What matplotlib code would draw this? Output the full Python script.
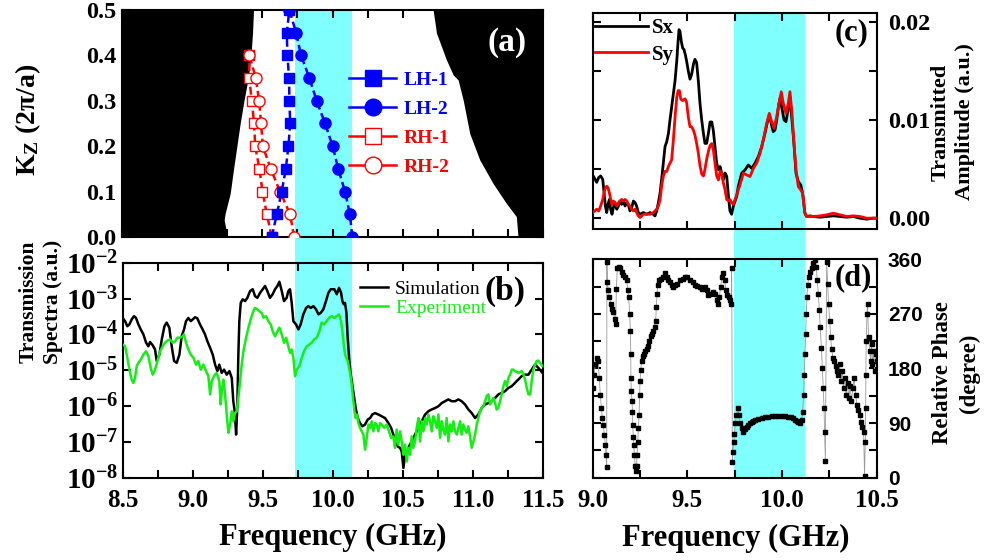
import matplotlib
matplotlib.use('Agg')
import matplotlib.pyplot as plt
import numpy as np
import matplotlib.transforms as mtransforms
from matplotlib.patches import Rectangle
from matplotlib.lines import Line2D
from matplotlib.ticker import MultipleLocator, NullLocator

plt.rcParams['font.family'] = ['Liberation Serif', 'DejaVu Serif']
plt.rcParams['font.weight'] = 'bold'
plt.rcParams['mathtext.fontset'] = 'custom'
plt.rcParams['mathtext.rm'] = 'Liberation Serif:bold'
plt.rcParams['mathtext.bf'] = 'Liberation Serif:bold'
plt.rcParams['mathtext.it'] = 'Liberation Serif:italic:bold'
plt.rcParams['axes.linewidth'] = 1.5

# ---------------- panel (a): band diagram ----------------
K_LH = [0.0, 0.05, 0.10, 0.15, 0.20, 0.25, 0.30, 0.35, 0.40, 0.45, 0.50]
LH1_F = [9.567, 9.603, 9.638, 9.667, 9.686, 9.698, 9.693, 9.690, 9.679, 9.674, 9.693]
LH2_F = [10.141, 10.124, 10.089, 10.041, 10.001, 9.947, 9.887, 9.835, 9.776, 9.740, 9.693]
K_RH = [0.0, 0.05, 0.10, 0.15, 0.20, 0.25, 0.30, 0.35, 0.40]
RH1_F = [9.567, 9.532, 9.501, 9.479, 9.449, 9.441, 9.425, 9.406, 9.408]
RH2_F = [9.726, 9.698, 9.626, 9.560, 9.503, 9.491, 9.477, 9.453, 9.408]

CONE_LEFT_K = [0.5, 0.449, 0.397, 0.353, 0.302, 0.250, 0.199, 0.148, 0.096, 0.052, 0.037, 0.015, 0.0]
CONE_LEFT_F = [9.437, 9.430, 9.418, 9.401, 9.370, 9.342, 9.318, 9.294, 9.271, 9.235, 9.228, 9.242, 9.247]
CONE_RIGHT_K = [0.5, 0.449, 0.390, 0.357, 0.346, 0.302, 0.228, 0.170, 0.118, 0.074, 0.045, 0.0]
CONE_RIGHT_F = [10.717, 10.741, 10.812, 10.860, 10.895, 10.931, 10.978, 11.049, 11.144, 11.239, 11.310, 11.322]

BAND_AB = (9.728, 10.141)
BAND_CD = (9.746, 10.120)

# ---------------- panel (b): transmission spectra (log10) ----------------
SIM_F = [8.500, 8.517, 8.533, 8.548, 8.564, 8.581, 8.595, 8.612, 8.629, 8.648,
         8.667, 8.683, 8.695, 8.714, 8.731, 8.743, 8.762, 8.779, 8.798, 8.814,
         8.833, 8.850, 8.867, 8.886, 8.905, 8.921, 8.938, 8.952, 8.969, 8.986,
         9.000, 9.017, 9.033, 9.052, 9.071, 9.088, 9.105, 9.124, 9.143, 9.160,
         9.176, 9.190, 9.207, 9.224, 9.243, 9.262, 9.279, 9.290, 9.300, 9.310,
         9.319, 9.326, 9.333, 9.343, 9.357, 9.374, 9.390, 9.410, 9.429, 9.445,
         9.462, 9.481, 9.500, 9.517, 9.533, 9.552, 9.571, 9.588, 9.605, 9.619,
         9.636, 9.652, 9.671, 9.683, 9.695, 9.707, 9.719, 9.738, 9.755, 9.771,
         9.790, 9.810, 9.826, 9.843, 9.862, 9.881, 9.898, 9.914, 9.933, 9.952,
         9.969, 9.986,
         10.012, 10.029, 10.045, 10.060, 10.069, 10.079, 10.088, 10.098, 10.107, 10.117,
         10.126, 10.136, 10.150, 10.164, 10.179, 10.195, 10.212, 10.231, 10.250, 10.267,
         10.283, 10.302, 10.326, 10.350, 10.374, 10.398, 10.417, 10.433, 10.450, 10.464,
         10.481, 10.493, 10.505, 10.517, 10.529, 10.545, 10.564, 10.588, 10.612, 10.636,
         10.660, 10.683, 10.707, 10.731, 10.755, 10.779, 10.802, 10.826, 10.850, 10.874,
         10.898, 10.921, 10.945, 10.969, 10.993, 11.017, 11.040, 11.064, 11.088, 11.112,
         11.136, 11.160, 11.183, 11.207, 11.231, 11.255, 11.279, 11.302, 11.326, 11.350,
         11.374, 11.398, 11.421, 11.445, 11.469, 11.498]
SIM_LOGT = [-3.54, -3.63, -3.77, -3.72, -3.58, -3.49, -3.54, -3.72, -3.86, -4.00,
            -4.23, -4.33, -4.21, -4.30, -4.42, -4.74, -4.56, -4.14, -3.77, -3.67,
            -3.81, -4.33, -4.74, -4.79, -4.56, -4.05, -3.86, -3.63, -3.54, -3.63,
            -3.58, -3.52, -3.55, -3.72, -3.86, -4.00, -4.19, -4.37, -4.56, -4.84,
            -5.02, -4.84, -5.07, -4.98, -5.12, -5.02, -5.21, -5.86, -6.14, -6.79,
            -5.95, -4.56, -3.63, -3.12, -3.02, -3.07, -2.98, -2.79, -2.74, -2.93,
            -2.98, -2.84, -2.74, -2.65, -2.79, -2.98, -2.88, -2.74, -2.65, -2.53,
            -2.79, -3.07, -2.98, -2.79, -2.74, -3.12, -3.63, -3.72, -3.86, -3.72,
            -3.44, -3.26, -3.21, -3.26, -3.21, -3.30, -3.44, -3.40, -3.30, -3.07,
            -2.84, -2.74,
            -2.74, -2.88, -2.70, -2.84, -3.07, -3.16, -3.12, -3.40, -4.09, -4.65,
            -5.02, -5.30, -5.67, -6.05, -6.33, -6.47, -6.56, -6.51, -6.37, -6.33,
            -6.23, -6.19, -6.23, -6.28, -6.33, -6.47, -6.60, -6.79, -6.98, -7.12,
            -7.16, -7.26, -7.72, -7.35, -7.35, -7.12, -6.98, -6.79, -6.60, -6.42,
            -6.23, -6.14, -6.09, -6.05, -6.00, -5.91, -5.86, -5.81, -5.86, -5.86,
            -5.81, -5.86, -5.95, -6.09, -6.19, -6.33, -6.23, -6.05, -5.95, -5.91,
            -5.86, -5.77, -5.67, -5.63, -5.58, -5.49, -5.44, -5.35, -5.26, -5.16,
            -5.12, -5.12, -4.98, -4.84, -4.93, -5.07]

EXP_F = [8.500, 8.517, 8.533, 8.548, 8.564, 8.576, 8.588, 8.600, 8.612, 8.629,
         8.648, 8.667, 8.683, 8.700, 8.714, 8.731, 8.748, 8.767, 8.786, 8.802,
         8.819, 8.838, 8.857, 8.874, 8.890, 8.910, 8.929, 8.938, 8.952, 8.969,
         8.986, 9.005, 9.024, 9.040, 9.057, 9.076, 9.095, 9.112, 9.124, 9.136,
         9.152, 9.171, 9.190, 9.200, 9.210, 9.219, 9.231, 9.243, 9.255, 9.267,
         9.279, 9.290, 9.302, 9.314, 9.326, 9.338, 9.350, 9.362, 9.381, 9.398,
         9.414, 9.433, 9.445, 9.462, 9.476, 9.493, 9.505, 9.524, 9.540, 9.557,
         9.571, 9.588, 9.605, 9.619, 9.636, 9.652, 9.667, 9.683, 9.695, 9.707,
         9.719, 9.731, 9.743, 9.762, 9.779, 9.795, 9.814, 9.833, 9.850, 9.867,
         9.886, 9.905, 9.921, 9.938, 9.957, 9.976, 9.993,
         10.012, 10.029, 10.045, 10.060, 10.069, 10.079, 10.088, 10.098, 10.107, 10.117,
         10.126, 10.136, 10.145, 10.155, 10.164, 10.174, 10.183, 10.195, 10.207, 10.219,
         10.231, 10.243, 10.255, 10.267, 10.279, 10.290, 10.302, 10.314, 10.326, 10.338,
         10.350, 10.369, 10.386, 10.402, 10.417, 10.433, 10.445, 10.457, 10.469, 10.481,
         10.493, 10.505, 10.517, 10.529, 10.540, 10.552, 10.564, 10.576, 10.588, 10.600,
         10.612, 10.624, 10.636, 10.648, 10.660, 10.671, 10.683, 10.695, 10.707, 10.719,
         10.731, 10.743, 10.755, 10.767, 10.779, 10.790, 10.802, 10.814, 10.826, 10.838,
         10.850, 10.862, 10.874, 10.886, 10.898, 10.910, 10.921, 10.933, 10.945, 10.957,
         10.969, 10.981, 10.993, 11.005, 11.017, 11.029, 11.040, 11.052, 11.064, 11.076,
         11.088, 11.100, 11.112, 11.124, 11.136, 11.148, 11.160, 11.171, 11.183, 11.195,
         11.207, 11.219, 11.231, 11.243, 11.255, 11.267, 11.279, 11.290, 11.302, 11.326,
         11.350, 11.362, 11.374, 11.386, 11.398, 11.410, 11.421, 11.433, 11.445, 11.457,
         11.469, 11.481, 11.498]
EXP_LOGT = [-4.28, -4.33, -4.65, -4.98, -5.26, -5.35, -5.21, -4.88, -4.79, -4.70,
            -4.56, -4.47, -4.60, -4.93, -5.12, -4.98, -4.74, -4.47, -4.33, -4.23,
            -4.17, -4.14, -4.23, -4.19, -4.09, -4.09, -4.05, -4.00, -4.23, -4.42,
            -4.56, -4.65, -4.84, -4.74, -4.98, -4.84, -5.02, -5.16, -5.67, -5.30,
            -5.16, -5.07, -5.30, -5.95, -5.49, -5.26, -5.67, -6.23, -6.74, -6.51,
            -6.14, -6.42, -6.19, -6.14, -5.77, -5.30, -4.84, -4.47, -4.09, -3.81,
            -3.58, -3.35, -3.26, -3.30, -3.35, -3.40, -3.53, -3.49, -3.63, -3.72,
            -3.91, -4.05, -3.91, -3.81, -4.00, -4.23, -4.09, -4.33, -4.51, -4.42,
            -4.65, -5.16, -4.98, -4.88, -4.65, -4.47, -4.33, -4.28, -4.23, -4.14,
            -4.09, -3.91, -3.67, -3.72, -3.63, -3.53, -3.49,
            -3.54, -3.49, -3.44, -3.63, -3.91, -4.28, -4.56, -4.65, -4.74, -4.93,
            -5.12, -5.40, -5.77, -6.14, -6.33, -6.23, -6.47, -6.60, -6.70, -6.79,
            -7.21, -6.88, -6.51, -6.60, -6.42, -6.70, -6.47, -6.51, -6.70, -6.47,
            -6.51, -6.60, -6.51, -6.70, -6.88, -6.84, -7.16, -6.65, -7.07, -6.70,
            -6.98, -7.35, -7.07, -7.54, -7.16, -7.35, -6.84, -7.16, -6.98, -6.60,
            -6.33, -6.98, -6.42, -6.70, -6.33, -6.51, -6.23, -6.42, -6.70, -6.28,
            -6.42, -6.60, -6.23, -6.88, -6.42, -6.65, -6.79, -6.33, -6.98, -6.51,
            -6.70, -6.42, -6.70, -6.79, -6.60, -6.42, -6.79, -6.51, -6.65, -6.74,
            -6.56, -6.84, -7.16, -6.98, -6.79, -6.51, -6.33, -6.14, -6.05, -6.00,
            -5.86, -5.72, -5.67, -5.95, -5.86, -5.77, -5.91, -6.09, -6.05, -5.86,
            -5.67, -5.44, -5.30, -5.44, -5.21, -5.12, -4.98, -4.98, -5.02, -5.07,
            -5.02, -5.12, -5.26, -5.49, -5.67, -5.67, -5.30, -4.98, -4.84, -4.74,
            -4.73, -4.79, -4.88]

# ---------------- panel (c): transmitted amplitude ----------------
SX_F = [9.000, 9.011, 9.021, 9.032, 9.042, 9.053, 9.060, 9.067, 9.074, 9.081,
        9.088, 9.095, 9.102, 9.109, 9.118, 9.127, 9.136, 9.144, 9.153, 9.162,
        9.171, 9.180, 9.188, 9.197, 9.206, 9.215, 9.224, 9.232, 9.241, 9.250,
        9.268, 9.285, 9.303, 9.320, 9.329, 9.338, 9.347, 9.356, 9.364, 9.373,
        9.382, 9.391, 9.400, 9.408, 9.417, 9.426, 9.435, 9.444, 9.451, 9.456,
        9.461, 9.468, 9.475, 9.482, 9.489, 9.496, 9.505, 9.514, 9.523, 9.532,
        9.540, 9.549, 9.558, 9.567, 9.576, 9.585, 9.593, 9.602, 9.611, 9.620,
        9.629, 9.637, 9.646, 9.655, 9.664, 9.673, 9.681, 9.690, 9.699, 9.708,
        9.717, 9.725, 9.734, 9.743, 9.752, 9.761,
        9.769, 9.787, 9.805, 9.822, 9.840, 9.857, 9.875, 9.893, 9.910, 9.923,
        9.933, 9.945, 9.954, 9.963, 9.972, 9.981, 9.989, 9.998, 10.011, 10.021,
        10.032, 10.042, 10.051, 10.063, 10.074, 10.086, 10.099, 10.109, 10.121, 10.130,
        10.148, 10.165, 10.201, 10.236, 10.271, 10.306, 10.342, 10.377, 10.412, 10.447,
        10.482, 10.500]
SX_AMP = [0.00440, 0.00400, 0.00365, 0.00415, 0.00430, 0.00395, 0.00258, 0.00124, 0.00057, 0.00141,
          0.00191, 0.00091, 0.00040, 0.00107, 0.00158, 0.00091, 0.00124, 0.00175, 0.00141, 0.00175,
          0.00124, 0.00158, 0.00141, 0.00074, 0.00107, 0.00175, 0.00158, 0.00124, 0.00057, 0.00040,
          0.00057, 0.00040, 0.00057, 0.00040, 0.00023, 0.00074, 0.00158, 0.00258, 0.00393, 0.00560,
          0.00728, 0.00779, 0.00862, 0.00997, 0.01131, 0.01265, 0.01399, 0.01601, 0.01802, 0.01920,
          0.01903, 0.01802, 0.01735, 0.01718, 0.01668, 0.01601, 0.01500, 0.01416, 0.01467, 0.01567,
          0.01618, 0.01584, 0.01399, 0.01165, 0.00997, 0.00862, 0.00762, 0.00762, 0.00862, 0.00980,
          0.00980, 0.00896, 0.00728, 0.00560, 0.00493, 0.00527, 0.00460, 0.00393, 0.00460, 0.00426,
          0.00225, 0.00074, 0.00040, 0.00124, 0.00175, 0.00225,
          0.00322, 0.00458, 0.00492, 0.00542, 0.00508, 0.00559, 0.00627, 0.00729, 0.00864, 0.00983,
          0.01051, 0.00949, 0.00881, 0.00898, 0.01000, 0.01136, 0.01220, 0.01136, 0.01000, 0.00983,
          0.01102, 0.01237, 0.01034, 0.00763, 0.00458, 0.00373, 0.00339, 0.00254, 0.00051, 0.00017,
          0.00024, 0.00017, 0.00010, 0.00017, 0.00024, 0.00017, 0.00010, 0.00017, 0.00000, -0.00010,
          0.00000, 0.00000]

SY_F = [9.000, 9.011, 9.021, 9.032, 9.042, 9.053, 9.060, 9.067, 9.074, 9.081,
        9.088, 9.095, 9.102, 9.109, 9.118, 9.127, 9.136, 9.144, 9.153, 9.162,
        9.171, 9.180, 9.188, 9.197, 9.206, 9.215, 9.224, 9.232, 9.241, 9.250,
        9.259, 9.268, 9.285, 9.303, 9.320, 9.338, 9.347, 9.356, 9.364, 9.373,
        9.382, 9.391, 9.400, 9.408, 9.417, 9.426, 9.435, 9.444, 9.451, 9.458,
        9.465, 9.475, 9.488, 9.496, 9.505, 9.514, 9.523, 9.532, 9.540, 9.549,
        9.558, 9.567, 9.576, 9.585, 9.593, 9.602, 9.611, 9.620, 9.629, 9.637,
        9.646, 9.655, 9.664, 9.673, 9.681, 9.690, 9.699, 9.708, 9.717, 9.725,
        9.734, 9.743, 9.752, 9.761,
        9.778, 9.796, 9.813, 9.831, 9.849, 9.866, 9.884, 9.901, 9.919, 9.933,
        9.945, 9.958, 9.972, 9.986, 9.996, 10.007, 10.021, 10.033, 10.042, 10.053,
        10.063, 10.074, 10.086, 10.099, 10.109, 10.121, 10.130, 10.165, 10.201, 10.236,
        10.271, 10.306, 10.342, 10.377, 10.412, 10.447, 10.482, 10.500]
SY_AMP = [0.00057, 0.00074, 0.00091, 0.00074, 0.00124, 0.00191, 0.00258, 0.00309, 0.00326, 0.00309,
          0.00258, 0.00191, 0.00141, 0.00175, 0.00158, 0.00124, 0.00158, 0.00175, 0.00191, 0.00175,
          0.00191, 0.00175, 0.00141, 0.00124, 0.00091, 0.00074, 0.00091, 0.00057, 0.00023, 0.00007,
          0.00023, 0.00040, 0.00040, 0.00040, 0.00057, 0.00091, 0.00124, 0.00191, 0.00326, 0.00426,
          0.00477, 0.00477, 0.00527, 0.00560, 0.00594, 0.00795, 0.01030, 0.01232, 0.01299, 0.01299,
          0.01215, 0.01198, 0.01215, 0.01181, 0.01030, 0.00930, 0.00930, 0.00896, 0.00846, 0.00762,
          0.00661, 0.00530, 0.00450, 0.00430, 0.00500, 0.00600, 0.00680, 0.00740, 0.00760, 0.00700,
          0.00560, 0.00430, 0.00390, 0.00480, 0.00460, 0.00360, 0.00290, 0.00190, 0.00180, 0.00190,
          0.00160, 0.00140, 0.00190, 0.00240,
          0.00339, 0.00458, 0.00441, 0.00424, 0.00508, 0.00559, 0.00661, 0.00797, 0.00966, 0.01068,
          0.00983, 0.00915, 0.01034, 0.01186, 0.01288, 0.01169, 0.01068, 0.01169, 0.01288, 0.01068,
          0.00763, 0.00492, 0.00322, 0.00288, 0.00254, 0.00051, 0.00017, 0.00017, 0.00024, 0.00034,
          0.00051, 0.00034, 0.00017, 0.00024, 0.00017, 0.00000, 0.00000, 0.00000]

# ---------------- panel (d): relative phase ----------------
PH_F = [9.000, 9.007, 9.014, 9.021, 9.028, 9.035, 9.040, 9.046, 9.051, 9.056, 9.062, 9.067, 9.070, 9.074,
        9.075, 9.077, 9.083, 9.088, 9.095, 9.102, 9.109, 9.116, 9.121,
        9.125, 9.130, 9.137, 9.144, 9.153, 9.162, 9.171, 9.180, 9.185, 9.190,
        9.195, 9.199, 9.201, 9.202, 9.204, 9.208, 9.210, 9.211, 9.215, 9.217,
        9.220, 9.224, 9.227,
        9.232, 9.234, 9.238, 9.241, 9.245, 9.248, 9.250, 9.254, 9.259, 9.264,
        9.271, 9.278, 9.285, 9.294, 9.299, 9.306, 9.313, 9.320, 9.327, 9.333,
        9.336, 9.340, 9.343, 9.350, 9.359, 9.370, 9.382, 9.391, 9.400, 9.408,
        9.417, 9.426, 9.435, 9.447, 9.461, 9.475, 9.488, 9.500, 9.514, 9.528,
        9.540, 9.553, 9.567, 9.579, 9.592, 9.602, 9.611, 9.620, 9.634, 9.646,
        9.655, 9.662, 9.669, 9.676, 9.683, 9.690, 9.697, 9.704, 9.711, 9.718,
        9.725, 9.731, 9.734,
        9.738, 9.741, 9.745, 9.748, 9.754, 9.759, 9.766, 9.773, 9.780, 9.787,
        9.796, 9.804, 9.813, 9.822, 9.831, 9.840, 9.849, 9.857, 9.875, 9.893,
        9.910, 9.928, 9.945, 9.963, 9.981, 9.998, 10.016, 10.033, 10.048, 10.060,
        10.069, 10.077, 10.086, 10.095, 10.104,
        10.109, 10.114, 10.118, 10.121, 10.125, 10.128, 10.132, 10.135, 10.142, 10.149,
        10.156, 10.165, 10.174, 10.181, 10.186, 10.192, 10.197, 10.202, 10.208, 10.213,
        10.218, 10.222, 10.225, 10.229,
        10.236, 10.241, 10.246, 10.252, 10.257, 10.262, 10.269, 10.276, 10.283, 10.290,
        10.297, 10.304, 10.311, 10.318, 10.325, 10.332, 10.339, 10.346, 10.353, 10.360,
        10.367, 10.374, 10.381, 10.389, 10.396, 10.403, 10.410, 10.417, 10.424, 10.431,
        10.436, 10.440, 10.442, 10.443, 10.445, 10.449, 10.452, 10.457, 10.463, 10.468,
        10.473, 10.478, 10.484, 10.489, 10.494, 10.500]
PH_DEG = [147.8, 170.0, 186.7, 197.8, 192.2, 164.4, 136.7, 114.4, 97.8, 86.7, 70.0, 53.3, 36.7, 17.2,
          356.1, 322.8, 308.9, 297.8, 286.7, 278.3, 272.8, 261.7, 253.3,
          311.7, 345.0, 347.8, 345.0, 339.4, 333.9, 331.1, 325.6, 308.9, 297.8,
          270.0, 242.2, 203.3, 164.4, 142.2, 125.6, 108.9, 86.7, 67.2, 53.3,
          36.7, 20.0, 11.7,
          20.0, 36.7, 58.9, 81.1, 103.3, 136.7, 158.9, 178.3, 192.2, 200.6,
          203.3, 208.9, 211.7, 217.2, 225.6, 233.9, 236.7, 242.2, 247.8, 258.9,
          281.1, 303.3, 317.2, 325.6, 328.3, 331.1, 336.7, 331.1, 325.6, 322.8,
          317.2, 314.4, 317.2, 320.0, 325.6, 328.3, 331.1, 330.0, 325.6, 322.8,
          317.2, 315.6, 314.4, 311.7, 314.4, 308.9, 300.6, 303.3, 306.1, 303.3,
          292.2, 286.7, 297.8, 314.4, 331.1, 336.7, 325.6, 308.9, 300.6, 297.8,
          292.2, 286.7, 345.0,
          25.6, 42.2, 58.9, 72.8, 89.4, 103.3, 114.4, 103.3, 89.4, 81.1,
          75.6, 80.0, 83.3, 86.7, 89.4, 92.2, 93.9, 95.0, 96.7, 97.8,
          99.4, 100.6, 101.1, 101.1, 101.7, 102.2, 101.7, 100.6, 99.4, 97.8,
          95.6, 93.3, 91.1, 89.4, 95.0,
          108.9, 136.7, 170.0, 203.3, 236.7, 270.0, 297.8, 317.2, 331.1, 339.4,
          345.0, 353.3, 358.9, 347.8, 325.6, 303.3, 275.6, 247.8, 214.4, 181.1,
          147.8, 114.4, 75.6, 28.3,
          356.1, 320.0, 286.7, 258.9, 231.1, 211.7, 197.8, 192.2, 183.9, 175.6,
          170.0, 186.7, 158.9, 175.6, 147.8, 164.4, 136.7, 156.1, 131.1, 150.6,
          125.6, 147.8, 164.4, 136.7, 120.0, 111.7, 103.3, 92.2, 83.9, 75.6,
          3.3, 58.9, 114.4, 170.0, 225.6, 270.0, 286.7, 231.1, 208.9, 192.2,
          220.0, 186.7, 208.9, 175.6, 203.3, 192.2]

LOG_TICKS = [-8, -7, -6, -5, -4, -3, -2]


def pair(x, y):
    n = min(len(x), len(y))
    return np.asarray(x[:n], float), np.asarray(y[:n], float)


CYAN = '#80FFFF'
GREEN = '#14EE14'

fig = plt.figure(figsize=(9.88, 5.6), dpi=100)
ax_a = fig.add_axes([0.1235, 0.5768, 0.4261, 0.4054])
ax_b = fig.add_axes([0.1242, 0.1464, 0.4251, 0.3845])
ax_c = fig.add_axes([0.5999, 0.5911, 0.2874, 0.3857])
ax_d = fig.add_axes([0.5999, 0.1470, 0.2874, 0.3900])
for ax in (ax_a, ax_b, ax_c, ax_d):
    ax.set_facecolor('none')
    ax.tick_params(which='both', direction='in', top=True, right=True,
                   length=5.5, width=1.5)

# band rectangles spanning the two rows
t1 = mtransforms.blended_transform_factory(ax_b.transData, fig.transFigure)
fig.add_artist(Rectangle((BAND_AB[0], 0.1464), BAND_AB[1] - BAND_AB[0], 0.9821 - 0.1464,
                         transform=t1, facecolor=CYAN, edgecolor='none', zorder=-1))
t2 = mtransforms.blended_transform_factory(ax_d.transData, fig.transFigure)
fig.add_artist(Rectangle((BAND_CD[0], 0.1470), BAND_CD[1] - BAND_CD[0], 0.9768 - 0.1470,
                         transform=t2, facecolor=CYAN, edgecolor='none', zorder=-1))

# ---- (a)
ax_a.fill_betweenx(CONE_LEFT_K, 8.5, CONE_LEFT_F, color='black', lw=0, zorder=1)
ax_a.fill_betweenx(CONE_RIGHT_K, CONE_RIGHT_F, 11.5, color='black', lw=0, zorder=1)
dash = (0, (3.2, 1.6))
ax_a.plot(RH1_F, K_RH, color='red', ls=dash, lw=1.8, marker='s', ms=6.5,
          mfc='white', mec='red', mew=1.0, zorder=3)
ax_a.plot(RH2_F, K_RH, color='red', ls=dash, lw=1.8, marker='o', ms=8,
          mfc='white', mec='red', mew=1.0, zorder=3)
ax_a.plot(LH1_F, K_LH, color='blue', ls=dash, lw=1.8, marker='s', ms=7,
          mfc='blue', mec='blue', zorder=4)
ax_a.plot(LH2_F, K_LH, color='blue', ls=dash, lw=1.8, marker='o', ms=8,
          mfc='blue', mec='blue', zorder=4)
handles = [Line2D([], [], color='blue', lw=1.8, marker='s', ms=11, mfc='blue', label='LH-1'),
           Line2D([], [], color='blue', lw=1.8, marker='o', ms=12, mfc='blue', label='LH-2'),
           Line2D([], [], color='red', lw=1.8, marker='s', ms=11, mfc='white', mew=1.0, label='RH-1'),
           Line2D([], [], color='red', lw=1.8, marker='o', ms=12, mfc='white', mew=1.0, label='RH-2')]
ax_a.legend(handles=handles, loc='upper left', bbox_to_anchor=(0.54, 0.73), frameon=False,
            prop={'size': 14, 'weight': 'bold'}, handlelength=2.4, handletextpad=0.4,
            labelspacing=0.58, borderpad=0, borderaxespad=0, labelcolor='linecolor')
ax_a.set_xlim(8.5, 11.5)
ax_a.set_ylim(0, 0.5)
ax_a.xaxis.set_major_locator(MultipleLocator(0.5))
ax_a.xaxis.set_minor_locator(MultipleLocator(0.25))
ax_a.set_yticks([0.0, 0.1, 0.2, 0.3, 0.4, 0.5])
ax_a.set_yticklabels(['0.0', '0.1', '0.2', '0.3', '0.4', '0.5'], fontsize=17.5)
ax_a.tick_params(labelbottom=False, pad=4)
ax_a.text(0.914, 0.855, '(a)', transform=ax_a.transAxes, color='white', fontsize=24,
          ha='center', va='center', zorder=5)

# ---- (b)
fs, ls_ = pair(SIM_F, SIM_LOGT)
fe, le = pair(EXP_F, EXP_LOGT)
ax_b.plot(fs, 10.0 ** ls_, color='black', lw=1.8, label='Simulation', zorder=3)
ax_b.plot(fe, 10.0 ** le, color=GREEN, lw=1.8, label='Experiment', zorder=4)
ax_b.set_yscale('log')
ax_b.set_xlim(8.5, 11.5)
ax_b.set_ylim(1e-8, 1e-2)
ax_b.set_yticks([10.0 ** e for e in LOG_TICKS])
ax_b.set_yticklabels([r'$\mathbf{10^{%d}}$' % e for e in LOG_TICKS], fontsize=21)
ax_b.yaxis.set_minor_locator(NullLocator())
ax_b.xaxis.set_minor_locator(MultipleLocator(0.25))
ax_b.set_xticks([8.5, 9.0, 9.5, 10.0, 10.5, 11.0, 11.5])
ax_b.set_xticklabels(['8.5', '9.0', '9.5', '10.0', '10.5', '11.0', '11.5'], fontsize=18)
ax_b.tick_params(axis='y', pad=3)
ax_b.tick_params(axis='x', pad=8)
ax_b.legend(loc='upper left', bbox_to_anchor=(0.565, 0.92), frameon=False,
            prop={'size': 14, 'weight': 'normal'}, handlelength=1.45, handletextpad=0.35,
            labelspacing=0.08, borderpad=0, borderaxespad=0, labelcolor='linecolor')
ax_b.text(0.91, 0.865, '(b)', transform=ax_b.transAxes, fontsize=24,
          ha='center', va='center', zorder=5)

# ---- (c)
fx, ax_ = pair(SX_F, SX_AMP)
fy, ay = pair(SY_F, SY_AMP)
ax_c.plot(fx, ax_, color='black', lw=2.0, label='Sx', zorder=3)
ax_c.plot(fy, ay, color='red', lw=2.0, label='Sy', zorder=4)
ax_c.set_xlim(9.0, 10.5)
ax_c.set_ylim(-0.0011, 0.0209)
ax_c.xaxis.set_major_locator(MultipleLocator(0.5))
ax_c.xaxis.set_minor_locator(MultipleLocator(0.25))
ax_c.set_yticks([0.0, 0.01, 0.02])
ax_c.set_yticklabels(['0.00', '0.01', '0.02'], fontsize=17.5)
ax_c.yaxis.set_minor_locator(MultipleLocator(0.005))
ax_c.tick_params(labelbottom=False, labelleft=False, labelright=True)
ax_c.tick_params(axis='y', pad=8)
ax_c.legend(loc='upper left', bbox_to_anchor=(0.008, 0.975), frameon=False,
            prop={'size': 15, 'weight': 'bold'}, handlelength=2.55, handletextpad=0.2,
            labelspacing=0.3, borderpad=0, borderaxespad=0)
ax_c.text(0.913, 0.907, '(c)', transform=ax_c.transAxes, fontsize=22,
          ha='center', va='center', zorder=5)

# ---- (d)
fp, pp = pair(PH_F, PH_DEG)
ax_d.plot(fp, pp, color='#9a9a9a', lw=0.6, zorder=2)
ax_d.plot(fp, pp, ls='none', marker='s', ms=3.3, color='black', zorder=3)
ax_d.set_xlim(9.0, 10.5)
ax_d.set_ylim(0, 360)
ax_d.xaxis.set_minor_locator(MultipleLocator(0.25))
ax_d.set_xticks([9.0, 9.5, 10.0, 10.5])
ax_d.set_xticklabels(['9.0', '9.5', '10.0', '10.5'], fontsize=18)
ax_d.set_yticks([0, 90, 180, 270, 360])
ax_d.set_yticklabels(['0', '90', '180', '270', '360'], fontsize=15,
                     fontfamily='Liberation Sans', fontweight='bold')
ax_d.yaxis.set_minor_locator(MultipleLocator(45))
ax_d.tick_params(labelleft=False, labelright=True)
ax_d.tick_params(axis='y', pad=8)
ax_d.tick_params(axis='x', pad=8)
ax_d.text(0.917, 0.914, '(d)', transform=ax_d.transAxes, fontsize=22,
          ha='center', va='center', zorder=5)

# ---- axis titles
W, H = 988.0, 560.0
fig.text(28 / W, 1 - 120 / H, 'K$_{\\mathrm{Z}}$ (2π/a)', rotation=90, ha='center',
         va='center', fontsize=20)
fig.text(41 / W, 1 - 302 / H, 'Transmission\nSpectra (a.u.)', rotation=90, ha='center',
         va='center', fontsize=15.5, multialignment='center', linespacing=1.3)
fig.text(953 / W, 1 - 122 / H, 'Transmitted\nAmplitude (a.u.)', rotation=90, ha='center',
         va='center', fontsize=16, multialignment='center', linespacing=1.3)
fig.text(956 / W, 1 - 373 / H, 'Relative Phase\n(degree)', rotation=90, ha='center',
         va='center', fontsize=16.5, multialignment='center', linespacing=1.3)
fig.text(333 / W, 1 - 537 / H, 'Frequency (GHz)', ha='center', va='center', fontsize=22)
fig.text(736 / W, 1 - 538 / H, 'Frequency (GHz)', ha='center', va='center', fontsize=22)

fig.savefig('out.png', dpi=100)
